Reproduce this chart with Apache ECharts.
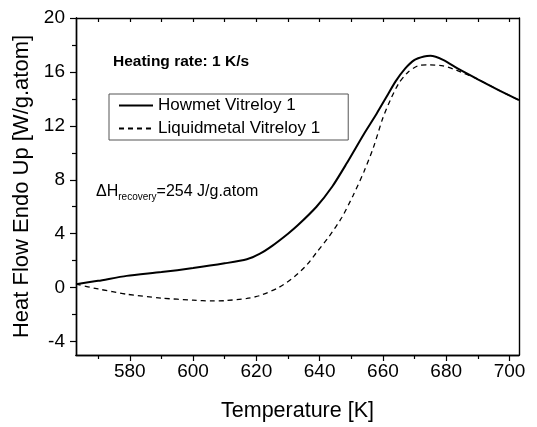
<!DOCTYPE html>
<html>
<head>
    <meta charset="utf-8">
    <title>Heat flow</title>
    <script src="https://cdn.jsdelivr.net/npm/echarts@6/dist/echarts.min.js"></script>
    <style>
        html, body { margin: 0; padding: 0; background: #fff; }
        #chart { width: 537px; height: 427px; }
    </style>
</head>
<body>
<div id="chart"></div>
<script type="text/javascript">

    // Howmet Vitreloy 1 (solid)
    var howmetT = [563, 570, 579, 590, 600, 610, 617, 621, 625, 630, 633, 639, 644, 648.5, 654, 658, 661, 664, 667, 670, 673, 675, 679, 684, 690, 697, 703];
    var howmetV = [0.25, 0.5, 0.87, 1.15, 1.45, 1.8, 2.1, 2.5, 3.1, 4.0, 4.6, 6.0, 7.5, 9.2, 11.4, 12.9, 14.1, 15.3, 16.25, 16.9, 17.15, 17.2, 16.9, 16.2, 15.45, 14.6, 13.9];

    // Liquidmetal Vitreloy 1 (dashed)
    var liquidT = [563, 570, 579, 590, 600, 606, 610, 617, 621, 627, 632, 636, 639, 643, 647, 650.5, 654, 657, 660, 662.5, 665, 668, 671, 674, 679, 683, 690, 697, 703];
    var liquidV = [0.25, -0.1, -0.49, -0.78, -0.93, -0.99, -0.97, -0.8, -0.6, 0.0, 0.8, 1.7, 2.6, 3.8, 5.2, 6.8, 8.6, 10.4, 12.6, 14.0, 15.15, 16.0, 16.45, 16.52, 16.45, 16.15, 15.45, 14.6, 13.9];

    // ticks
    var xMajor = [580, 600, 620, 640, 660, 680, 700];
    var xMinor = [570, 590, 610, 630, 650, 670, 690];
    var xTop = [570, 580, 590, 600, 610, 620, 630, 640, 650, 660, 670, 680, 690, 700];
    var yMajor = [-4, 0, 4, 8, 12, 16, 20];
    var yMinor = [-2, 2, 6, 10, 14, 18];

    function pairs(xs, ys) {
        var out = [];
        for (var i = 0; i < xs.length; i++) {
            out.push([xs[i], ys[i]]);
        }
        return out;
    }

    var font = 'Liberation Sans, Arial, sans-serif';
    var axisLine = {show: true, onZero: false, lineStyle: {color: '#000', width: 1.4}};

    var myChart = echarts.init(document.getElementById('chart'));
    var option = {
        animation: false,
        textStyle: {fontFamily: font, color: '#000'},
        grid: {left: 76, right: 18, top: 18, bottom: 71, containLabel: false},
        legend: {
            orient: 'vertical',
            left: 109,
            top: 94,
            padding: [3, 28, 3, 9],
            itemWidth: 34,
            itemHeight: 14,
            itemGap: 6,
            borderColor: '#555',
            borderWidth: 1,
            itemStyle: {color: 'transparent', borderWidth: 0},
            textStyle: {fontFamily: font, fontSize: 17, color: '#000'},
            data: ['Howmet Vitreloy 1', 'Liquidmetal Vitreloy 1']
        },
        graphic: [
            {
                type: 'text', left: 113, top: 54,
                style: {text: 'Heating rate: 1 K/s', font: 'bold 15.5px ' + font, fill: '#000'}
            },
            {
                type: 'text', left: 96, top: 184,
                style: {
                    text: '{a|ΔH}{b|recovery}{a|=254 J/g.atom}',
                    fill: '#000',
                    rich: {
                        a: {fontFamily: font, fontSize: 16, fill: '#000'},
                        b: {fontFamily: font, fontSize: 10, fill: '#000', padding: [10, 0, 0, 0]}
                    }
                }
            }
        ],
        xAxis: [
            {
                type: 'value', position: 'bottom', min: 563, max: 703,
                name: 'Temperature [K]', nameLocation: 'middle', nameGap: 45,
                nameTextStyle: {fontFamily: font, fontSize: 21.5, color: '#000'},
                axisLine: axisLine,
                axisTick: {show: true, inside: false, length: 6, customValues: xMajor, lineStyle: {color: '#000', width: 1.2}},
                axisLabel: {show: true, customValues: xMajor, margin: 7, fontFamily: font, fontSize: 19, color: '#000'},
                splitLine: {show: false}
            },
            {
                type: 'value', position: 'bottom', min: 563, max: 703,
                axisLine: axisLine,
                axisTick: {show: true, inside: false, length: 4, customValues: xMinor, lineStyle: {color: '#000', width: 1.2}},
                axisLabel: {show: false},
                splitLine: {show: false}
            },
            {
                type: 'value', position: 'top', min: 563, max: 703,
                axisLine: axisLine,
                axisTick: {show: true, inside: true, length: 4, customValues: xTop, lineStyle: {color: '#000', width: 1.2}},
                axisLabel: {show: false},
                splitLine: {show: false}
            }
        ],
        yAxis: [
            {
                type: 'value', position: 'left', min: -5, max: 20,
                name: 'Heat Flow Endo Up [W/g.atom]', nameLocation: 'middle', nameGap: 42,
                nameTextStyle: {fontFamily: font, fontSize: 22, color: '#000'},
                axisLine: axisLine,
                axisTick: {show: true, inside: false, length: 6, customValues: yMajor, lineStyle: {color: '#000', width: 1.2}},
                axisLabel: {show: true, customValues: yMajor, margin: 11, fontFamily: font, fontSize: 19, color: '#000'},
                splitLine: {show: false}
            },
            {
                type: 'value', position: 'left', min: -5, max: 20,
                axisLine: axisLine,
                axisTick: {show: true, inside: false, length: 4, customValues: yMinor, lineStyle: {color: '#000', width: 1.2}},
                axisLabel: {show: false},
                splitLine: {show: false}
            },
            {
                type: 'value', position: 'right', min: -5, max: 20,
                axisLine: axisLine,
                axisTick: {show: false},
                axisLabel: {show: false},
                splitLine: {show: false}
            }
        ],
        series: [
            {
                name: 'Howmet Vitreloy 1',
                type: 'line',
                xAxisIndex: 0, yAxisIndex: 0,
                symbol: 'none',
                smooth: 0.25,
                lineStyle: {color: '#000', width: 2},
                itemStyle: {color: '#000'},
                data: pairs(howmetT, howmetV)
            },
            {
                name: 'Liquidmetal Vitreloy 1',
                type: 'line',
                xAxisIndex: 0, yAxisIndex: 0,
                symbol: 'none',
                smooth: 0.25,
                lineStyle: {color: '#000', width: 1.3, type: [5, 4]},
                itemStyle: {color: '#000'},
                data: pairs(liquidT, liquidV)
            }
        ]
    };
    myChart.setOption(option);

</script>
</body>
</html>
